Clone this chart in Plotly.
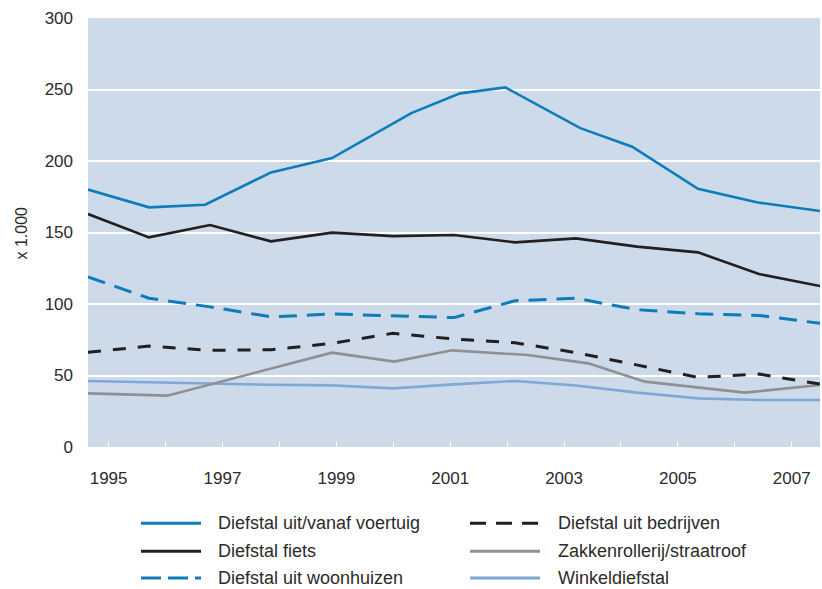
import plotly.graph_objects as go

# ---------------- data ----------------
YEARS = list(range(1995, 2008))
YEAR_LABELS = [str(y) if y % 2 == 1 else "" for y in YEARS]
Y_TICKS = [0, 50, 100, 150, 200, 250, 300]

# measurement positions along the line (0..12, as drawn in the source)
POS = list(range(13))
voertuig_pos = [0, 1, 1.92, 3, 4, 5.3, 6.1, 6.84, 8.07, 8.92, 10, 10.98, 12]
zakken_pos = [0, 1.3, 4, 5.02, 5.97, 7.21, 8.2, 9.13, 10.77, 12]

voertuig = [180, 167.6, 169.4, 192, 202, 233.5, 247.3, 251.5, 223, 210, 180.6, 171, 165]
fiets = [162.9, 146.6, 155.2, 143.8, 149.9, 147.5, 148.2, 143.1, 145.9, 140.1, 136.1, 121, 112.6]
woonhuizen = [119, 104, 98, 91, 93, 92, 90.5, 102.3, 104, 96, 93.2, 92, 86.5]
bedrijven = [66.2, 70.6, 67.6, 68, 72.5, 79.5, 75.5, 72.9, 66, 57.3, 48.7, 51, 44]
zakken = [37.5, 35.9, 66, 59.7, 67.6, 64.3, 58.5, 45.7, 38, 43.4]
winkel = [46.2, 45.3, 44.2, 43.5, 43.1, 41, 43.8, 46.2, 43, 38, 34, 32.9, 32.9]

NAMES = ["Diefstal uit/vanaf voertuig", "Diefstal fiets", "Diefstal uit woonhuizen",
         "Diefstal uit bedrijven", "Zakkenrollerij/straatroof", "Winkeldiefstal"]

# ---------------- styles ----------------
BLUE = "#0c7cba"
BLACK = "#231f20"
GREY = "#8e9092"
LIGHTBLUE = "#7ea8d5"
BG = "#cddaea"
TXT = "#2b2b2b"
FONT = "Liberation Sans, Arial, sans-serif"

series = [
    # name, x, y, color, dash, width
    (NAMES[5], POS, winkel, LIGHTBLUE, "solid", 2.6),
    (NAMES[4], zakken_pos, zakken, GREY, "solid", 2.6),
    (NAMES[3], POS, bedrijven, BLACK, "13px,12px", 3),
    (NAMES[2], POS, woonhuizen, BLUE, "18px,10px", 3),
    (NAMES[1], POS, fiets, BLACK, "solid", 2.6),
    (NAMES[0], voertuig_pos, voertuig, BLUE, "solid", 2.6),
]

fig = go.Figure()
for name, xs, ys, col, dash, w in series:
    fig.add_trace(go.Scatter(x=xs, y=ys, mode="lines", name=name,
                             line=dict(color=col, dash=dash, width=w),
                             xaxis="x", yaxis="y", showlegend=False))

# year axis (carries the tick labels)
fig.add_trace(go.Scatter(x=YEARS, y=[None] * len(YEARS), mode="lines",
                         xaxis="x2", yaxis="y", showlegend=False, hoverinfo="skip"))

fig.update_layout(
    width=822, height=589,
    margin=dict(l=88, r=2, t=18, b=142),
    plot_bgcolor=BG, paper_bgcolor="white",
    font=dict(family=FONT, color=TXT),
    showlegend=False,
    xaxis=dict(range=[0, 12], visible=False, fixedrange=True),
    xaxis2=dict(overlaying="x", anchor="y", side="bottom",
                range=[1994.638, 2007.496],
                tickvals=YEARS, ticktext=YEAR_LABELS,
                ticks="inside", ticklen=5, tickwidth=1, tickcolor="white",
                showgrid=False, showline=False, zeroline=False,
                tickfont=dict(size=17, color=TXT, family=FONT),
                ticklabelstandoff=19),
    yaxis=dict(range=[0, 300], tickvals=Y_TICKS,
               showgrid=True, gridcolor="white", gridwidth=2,
               zeroline=False, showline=False, ticks="",
               tickfont=dict(size=17, color=TXT, family=FONT),
               ticklabelstandoff=14),
)

fig.add_annotation(text="x 1.000", textangle=-90, xref="paper", yref="paper",
                   x=-0.0902, y=0.5, xanchor="center", yanchor="middle",
                   showarrow=False, font=dict(size=16, color=TXT, family=FONT))

# ---------------- manual legend ----------------
legend_items = [
    (NAMES[0], BLUE, "solid", 0), (NAMES[1], BLACK, "solid", 0), (NAMES[2], BLUE, "20px,7px", 0),
    (NAMES[3], BLACK, "16px,10px", 1), (NAMES[4], GREY, "solid", 1), (NAMES[5], LIGHTBLUE, "solid", 1),
]
col_line = [(0.0724, 0.1544), (0.5219, 0.6175)]
col_text = [0.1749, 0.6393]
rows_y = [-0.1779, -0.2431, -0.3054]
counters = [0, 0]
for name, col, dash, c in legend_items:
    r = counters[c]
    counters[c] += 1
    y = rows_y[r]
    fig.add_shape(type="line", xref="paper", yref="paper",
                  x0=col_line[c][0], x1=col_line[c][1], y0=y, y1=y,
                  line=dict(color=col, width=3, dash=dash))
    fig.add_annotation(text=name, xref="paper", yref="paper", x=col_text[c], y=y,
                       xanchor="left", yanchor="middle", showarrow=False,
                       font=dict(size=18, color=TXT, family=FONT))

# remove the default page margin so the figure sits at the window's top-left corner
fig.write_html("out.html",
               config={"displayModeBar": False},
               post_script="document.body.style.margin='0';document.body.style.overflow='hidden';")
